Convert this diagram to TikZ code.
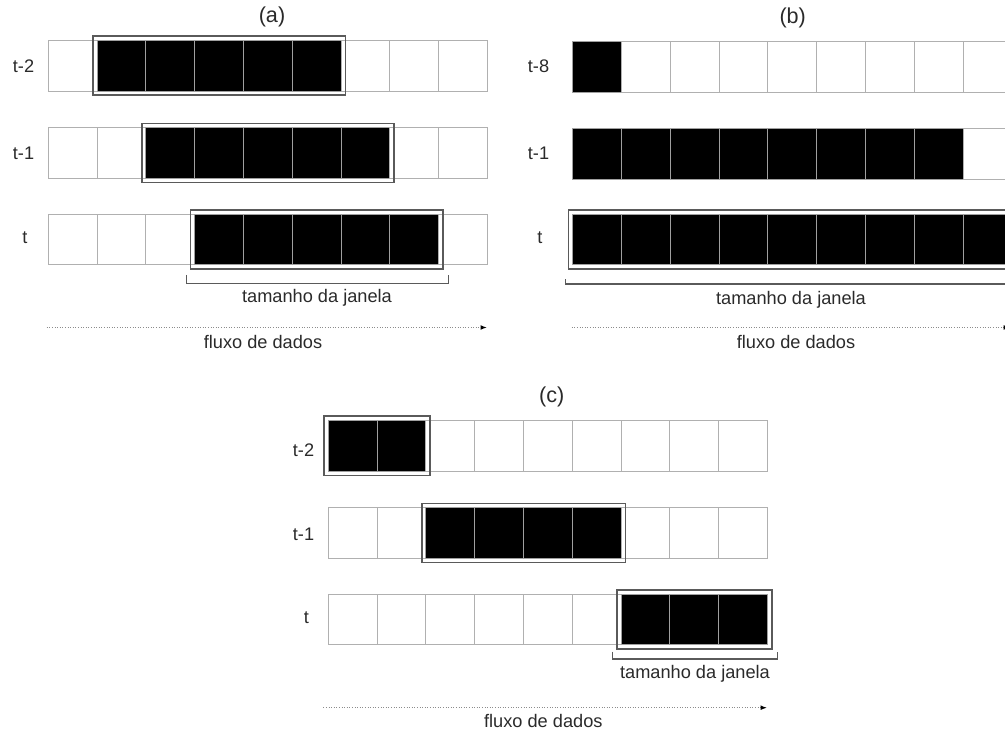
\documentclass[tikz,border=0pt]{standalone}
\usepackage{fontspec}
\setmainfont{Liberation Sans}
\usetikzlibrary{fit,arrows.meta}
\definecolor{txt}{HTML}{2A2A2A}
\definecolor{cellline}{HTML}{B0B0B0}
\definecolor{winline}{HTML}{5A5A5A}
\newcommand\cellrow[5]{%
  \foreach \i in {1,...,9}{%
    \pgfmathtruncatemacro\isblack{and(\i>=#4,\i<=#5)}%
    \ifnum\isblack=1
      \node[full] (#1-\i) at ({#2+(\i-1)*48.8},#3) {};
    \else
      \node[cell] (#1-\i) at ({#2+(\i-1)*48.8},#3) {};
    \fi
  }%
}
\begin{document}
\begin{tikzpicture}[x=0.5pt,y=-0.5pt,
  cell/.style={draw=cellline, line width=0.5pt, minimum width=24.4pt, minimum height=25.3pt,
    inner sep=0pt, outer sep=0pt, anchor=north west, fill=white},
  full/.style={cell, fill=black, draw=gray!75},
  win/.style={draw=winline, line width=0.8pt, inner sep=2.1pt, outer sep=0pt},
  lbl/.style={text=txt, font=\fontsize{9.1}{11}\selectfont, inner sep=0pt},
  ttl/.style={text=txt, font=\fontsize{10.8}{13}\selectfont, inner sep=0pt},
  brk/.style={draw=winline, line width=0.6pt},
  flow/.style={draw=gray!90, line width=0.6pt, dash pattern=on 0.45pt off 0.85pt,
    -{Latex[length=3.2pt,width=2.4pt,black]}}
]
\useasboundingbox (0,0) rectangle (1005,731);
\clip (0,0) rectangle (1005,731);

% ---------------- panel (a)
\node[ttl] (ta) at (272,17) {(a)};
\cellrow{a1}{48.3}{40.5}{2}{6}
\cellrow{a2}{48.3}{127.8}{3}{7}
\cellrow{a3}{48.3}{214.3}{4}{8}
\node[win, fit=(a1-2)(a1-6)] (wa1) {};
\node[win, fit=(a2-3)(a2-7)] (wa2) {};
\node[win, fit=(a3-4)(a3-8)] (wa3) {};
\node[lbl] (la1) at (23.5,66) {t-2};
\node[lbl] (la2) at (23.5,153) {t-1};
\node[lbl] (la3) at (25,238) {t};
\coordinate (baL) at (186.7,275);
\coordinate (baR) at (448.3,275);
\draw[brk] (baL) -- ++(0,8.3) -| (baR);
\node[lbl] (tja) at (317,298) {tamanho da janela};
\coordinate (faS) at (46.7,327.5);
\coordinate (faE) at (487,327.5);
\draw[flow] (faS) -- (faE);
\node[lbl] (fda) at (263,341.5) {fluxo de dados};

% ---------------- panel (b)
\node[ttl] (tb) at (792.7,18) {(b)};
\cellrow{b1}{572.7}{41.5}{1}{1}
\cellrow{b2}{572.7}{128.5}{1}{8}
\cellrow{b3}{572.7}{214.3}{1}{9}
\node[win, fit=(b3-1)(b3-9)] (wb3) {};
\node[lbl] (lb1) at (538.5,66) {t-8};
\node[lbl] (lb2) at (538.5,153) {t-1};
\node[lbl] (lb3) at (540,238) {t};
\coordinate (bbL) at (565.7,279.3);
\coordinate (bbR) at (1016,279.3);
\draw[brk] (bbL) -- ++(0,4.7) -| (bbR);
\node[lbl] (tjb) at (791,299.5) {tamanho da janela};
\coordinate (fbS) at (571.7,327.5);
\coordinate (fbE) at (1010,327.5);
\draw[flow] (fbS) -- (fbE);
\node[lbl] (fdb) at (796,341.5) {fluxo de dados};

% ---------------- panel (c)
\node[ttl] (tc) at (551.7,396.7) {(c)};
\cellrow{c1}{328.3}{420.5}{1}{2}
\cellrow{c2}{328.3}{507.5}{3}{6}
\cellrow{c3}{328.3}{594}{7}{9}
\node[win, fit=(c1-1)(c1-2)] (wc1) {};
\node[win, fit=(c2-3)(c2-6)] (wc2) {};
\node[win, fit=(c3-7)(c3-9)] (wc3) {};
\node[lbl] (lc1) at (303.5,450) {t-2};
\node[lbl] (lc2) at (303.5,534) {t-1};
\node[lbl] (lc3) at (306.5,618) {t};
\coordinate (bcL) at (612.7,651.7);
\coordinate (bcR) at (777.3,651.7);
\draw[brk] (bcL) -- ++(0,7.3) -| (bcR);
\node[lbl] (tjc) at (695,673.3) {tamanho da janela};
\coordinate (fcS) at (323.3,707.7);
\coordinate (fcE) at (767,707.7);
\draw[flow] (fcS) -- (fcE);
\node[lbl] (fdc) at (543.3,721) {fluxo de dados};
\end{tikzpicture}
\end{document}
